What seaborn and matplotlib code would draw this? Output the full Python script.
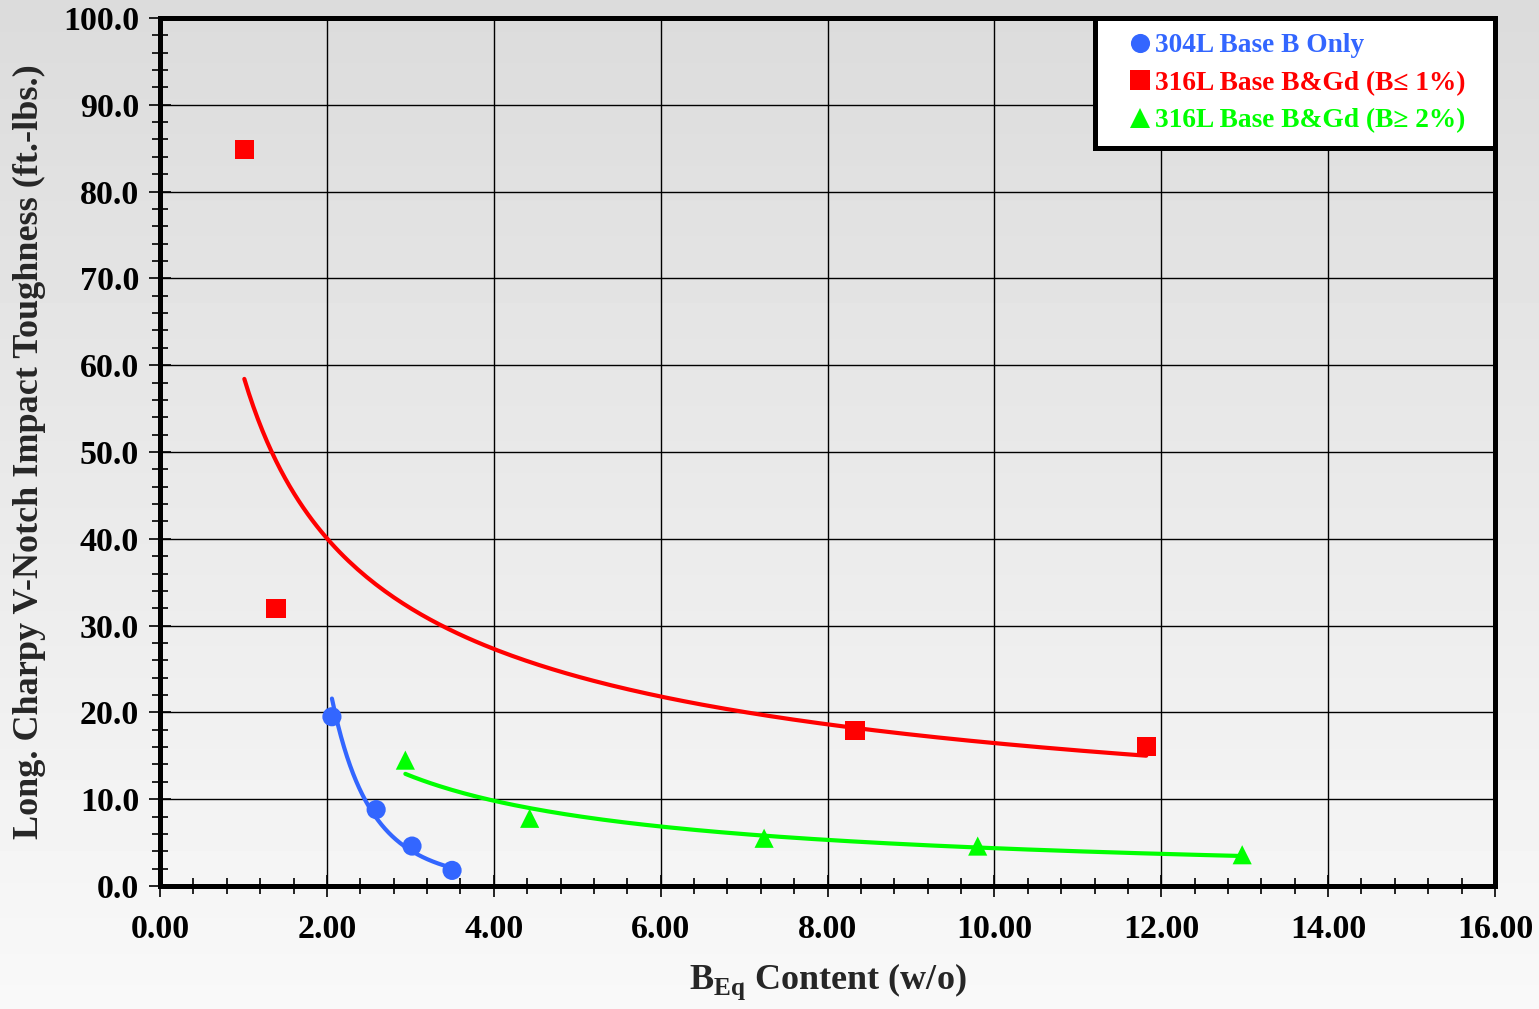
import numpy as np
import pandas as pd
import matplotlib
matplotlib.use("Agg")
import matplotlib.pyplot as plt
from matplotlib.ticker import MultipleLocator, FormatStrFormatter
import seaborn as sns

# data
blue_x = [2.06, 2.59, 3.02, 3.50]
blue_y = [19.5, 8.8, 4.6, 1.8]
red_x = [1.01, 1.39, 8.33, 11.82]
red_y = [84.8, 32.0, 17.9, 16.1]
green_x = [2.94, 4.43, 7.24, 9.80, 12.97]
green_y = [14.5, 7.8, 5.5, 4.6, 3.6]

labels = ["304L Base B Only", "316L Base B&Gd (B\u2264 1%)", "316L Base B&Gd (B\u2265 2%)"]
colors = ["#3366ff", "#ff0000", "#00ff00"]
markers = ["o", "s", "^"]

df = pd.concat([
    pd.DataFrame({"x": blue_x, "y": blue_y, "series": labels[0]}),
    pd.DataFrame({"x": red_x, "y": red_y, "series": labels[1]}),
    pd.DataFrame({"x": green_x, "y": green_y, "series": labels[2]}),
])

sns.set_style("white")
plt.rcParams["font.family"] = ["Liberation Serif", "DejaVu Serif"]
plt.rcParams["font.weight"] = "bold"
plt.rcParams["mathtext.fontset"] = "custom"
plt.rcParams["mathtext.rm"] = "Liberation Serif:bold"
plt.rcParams["mathtext.bf"] = "Liberation Serif:bold"

fig = plt.figure(figsize=(15.39, 10.09), dpi=100)

# gradient background
bg = fig.add_axes([0, 0, 1, 1], zorder=-10)
grad = np.linspace(0.86, 0.975, 256).reshape(-1, 1)
bg.imshow(grad, aspect="auto", cmap="gray", vmin=0, vmax=1, extent=[0, 1, 0, 1])
bg.axis("off")

ax = fig.add_axes([0.104, 0.1219, 0.8674, 0.8603])
ax.patch.set_alpha(0)

# power-law trendlines fitted to each series (like the spreadsheet trendline)
for sx, sy, c in zip([blue_x, red_x, green_x], [blue_y, red_y, green_y], colors):
    b, a = np.polyfit(np.log(sx), np.log(sy), 1)
    xs = np.linspace(min(sx), max(sx), 200)
    sns.lineplot(x=xs, y=np.exp(a) * xs ** b, color=c, lw=3, ax=ax, zorder=3)

sns.scatterplot(data=df, x="x", y="y", hue="series", style="series",
                palette=dict(zip(labels, colors)), markers=dict(zip(labels, markers)),
                s=190, edgecolor="none", ax=ax, zorder=4)

ax.set_xlim(0, 16)
ax.set_ylim(0, 100)
ax.xaxis.set_major_locator(MultipleLocator(2))
ax.xaxis.set_minor_locator(MultipleLocator(0.4))
ax.yaxis.set_major_locator(MultipleLocator(10))
ax.yaxis.set_minor_locator(MultipleLocator(2))
ax.xaxis.set_major_formatter(FormatStrFormatter("%.2f"))
ax.yaxis.set_major_formatter(FormatStrFormatter("%.1f"))
ax.grid(True, which="major", color="black", lw=1)
ax.set_axisbelow(True)
ax.tick_params(which="major", direction="inout", length=16, width=1.2, colors="black",
               labelsize=24.5)
ax.tick_params(axis="y", which="major", pad=7)
ax.tick_params(axis="x", which="major", pad=12)
ax.tick_params(which="minor", direction="inout", length=11, width=1.2, colors="black")
ax.tick_params(axis="x", which="both", bottom=True)
ax.tick_params(axis="y", which="both", left=True)
for lab in ax.get_xticklabels() + ax.get_yticklabels():
    lab.set_fontweight("bold")
for sp in ax.spines.values():
    sp.set_linewidth(3.6)
    sp.set_color("black")

ax.set_xlabel(r"B$_{\mathrm{Eq}}$ Content (w/o)", fontsize=26, fontweight="bold", labelpad=12)
ax.set_ylabel("Long. Charpy V-Notch Impact Toughness (ft.-lbs.)", fontsize=26,
              fontweight="bold", labelpad=12)

leg = ax.legend(loc="upper right", bbox_to_anchor=(0.7004, 0.0, 0.2996, 1.0),
                mode="expand", borderaxespad=0,
                fontsize=19.7, frameon=True, fancybox=False, framealpha=1,
                edgecolor="black", facecolor="white", handlelength=2.2,
                handletextpad=-0.55, borderpad=0.55, labelspacing=0.45,
                markerscale=1.0, title=None)
leg.get_frame().set_linewidth(3.6)
for t, c in zip(leg.get_texts(), colors):
    t.set_color(c)
    t.set_fontweight("bold")

fig.savefig("out.png", dpi=100)
